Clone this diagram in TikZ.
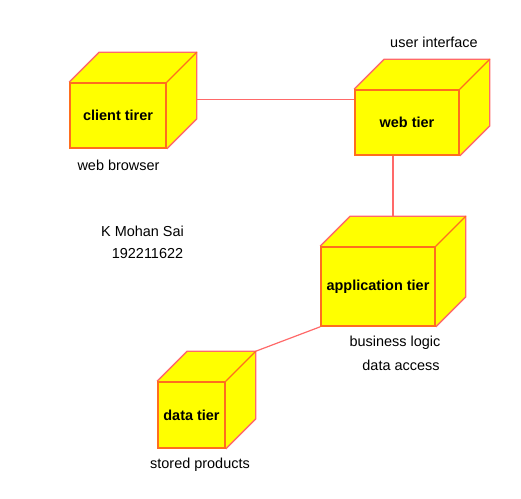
\documentclass[tikz,border=0pt]{standalone}
\usepackage{fontspec}
\setmainfont{Liberation Sans}
\usetikzlibrary{backgrounds}

\definecolor{cubefill}{RGB}{255,255,0}
\definecolor{cubeedge}{RGB}{255,110,30}
\definecolor{outeredge}{RGB}{255,105,105}

\tikzset{
  tierbox/.style={draw=cubeedge, fill=cubefill, line width=1.6bp, inner sep=0pt,
    font=\fontsize{14.5}{17}\selectfont\bfseries},
  link/.style={draw=outeredge, line width=1.2bp},
  note/.style={inner sep=0pt}
}

% top and side faces behind a front face node
\newcommand{\cubefaces}[1]{%
  \begin{pgfonlayer}{background}
  \fill[cubefill] (#1.north west) -- ([shift={(30,-30)}]#1.north west)
    -- ([shift={(30,-30)}]#1.north east) -- ([shift={(30,-30)}]#1.south east)
    -- (#1.south east) -- (#1.north east) -- cycle;
  \draw[outeredge, line width=1.3bp] (#1.north west) -- ([shift={(30,-30)}]#1.north west)
    -- ([shift={(30,-30)}]#1.north east) -- ([shift={(30,-30)}]#1.south east)
    -- (#1.south east);
  \draw[cubeedge, line width=1.3bp] (#1.north east) -- ([shift={(30,-30)}]#1.north east);
  \end{pgfonlayer}}

\begin{document}
\begin{tikzpicture}[x=1bp, y=-1bp, font=\fontsize{14.5}{17}\selectfont]
\useasboundingbox (0,0) rectangle (521,499);

\node[tierbox, minimum width=96bp, minimum height=65bp] (client) at (118,115.5) {client tirer};
\node[tierbox, minimum width=104bp, minimum height=65bp] (web) at (407,122.5) {web tier};
\node[tierbox, minimum width=114bp, minimum height=79bp] (app) at (378,286.5) {application tier};
\node[tierbox, minimum width=67bp, minimum height=66bp] (data) at (191.5,415) {data tier};

\cubefaces{client}
\cubefaces{web}
\cubefaces{app}
\cubefaces{data}

\node[note] (browser) at (118.5,165) {web browser};
\node[note] (ui) at (434,42) {user interface};
\node[note] (name) at (142.5,231) {K Mohan Sai};
\node[note] (regno) at (147.5,254) {192211622};
\node[note] (logic) at (395,343) {business logic};
\node[note] (access) at (401,365) {data access};
\node[note] (stored) at (200,465) {stored products};

% connectors
\coordinate (clientside) at ([shift={(30,17)}]client.north east);
\coordinate (webfoot) at ([shift={(-14,0)}]web.south);
\coordinate (apptop) at ([shift={(30,-30)}]app.north west);
\coordinate (datatop) at ([shift={(30,-30)}]data.north east);

\begin{pgfonlayer}{background}
\draw[link] (clientside) -- (clientside -| web.west);
\draw[link] (webfoot) -- (webfoot |- apptop);
\draw[link] (datatop) -- (app.south west);
\end{pgfonlayer}
\end{tikzpicture}
\end{document}
